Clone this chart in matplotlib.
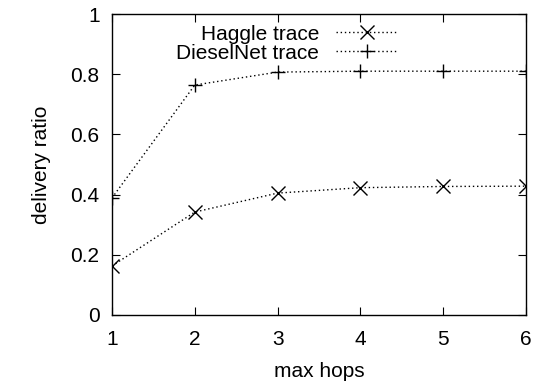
import matplotlib
matplotlib.use("Agg")
import matplotlib.pyplot as plt

hops = [1, 2, 3, 4, 5, 6]
haggle = [0.163, 0.342, 0.405, 0.423, 0.427, 0.428]
dieselnet = [0.389, 0.764, 0.807, 0.810, 0.810, 0.810]
xticks = [1, 2, 3, 4, 5, 6]
yticks = [0, 0.2, 0.4, 0.6, 0.8, 1]

plt.rcParams['font.family'] = ['Liberation Sans', 'DejaVu Sans']
fig = plt.figure(figsize=(5.37, 3.85), dpi=100)
ax = fig.add_axes([112/537, 70/385, 414/537, 301/385])

ax.plot(hops, haggle, color='black', linestyle=(0, (1, 2)), linewidth=1,
        marker='x', markersize=10, markeredgewidth=1, label='Haggle trace')
ax.plot(hops, dieselnet, color='black', linestyle=(0, (1, 2)), linewidth=1,
        marker='+', markersize=10, markeredgewidth=1, label='DieselNet trace')

ax.set_xlim(1, 6)
ax.set_ylim(0, 1)
ax.set_xticks(xticks)
ax.set_yticks(yticks)
ax.set_yticklabels(['0', '0.2', '0.4', '0.6', '0.8', '1'])
ax.tick_params(direction='in', top=True, right=True, labelsize=15, length=6, pad=9)
ax.tick_params(axis='x', pad=11)
for s in ax.spines.values():
    s.set_linewidth(1)
ax.set_xlabel('max hops', fontsize=15, labelpad=9)
ax.set_ylabel('delivery ratio', fontsize=15, labelpad=14)

leg = ax.legend(loc='upper right', bbox_to_anchor=(0.691, 0.965), frameon=False,
                markerfirst=False, fontsize=15, handlelength=3.0, handletextpad=0.8,
                labelspacing=0.0, borderaxespad=0, borderpad=0)
fig.savefig('out.png', dpi=100)
